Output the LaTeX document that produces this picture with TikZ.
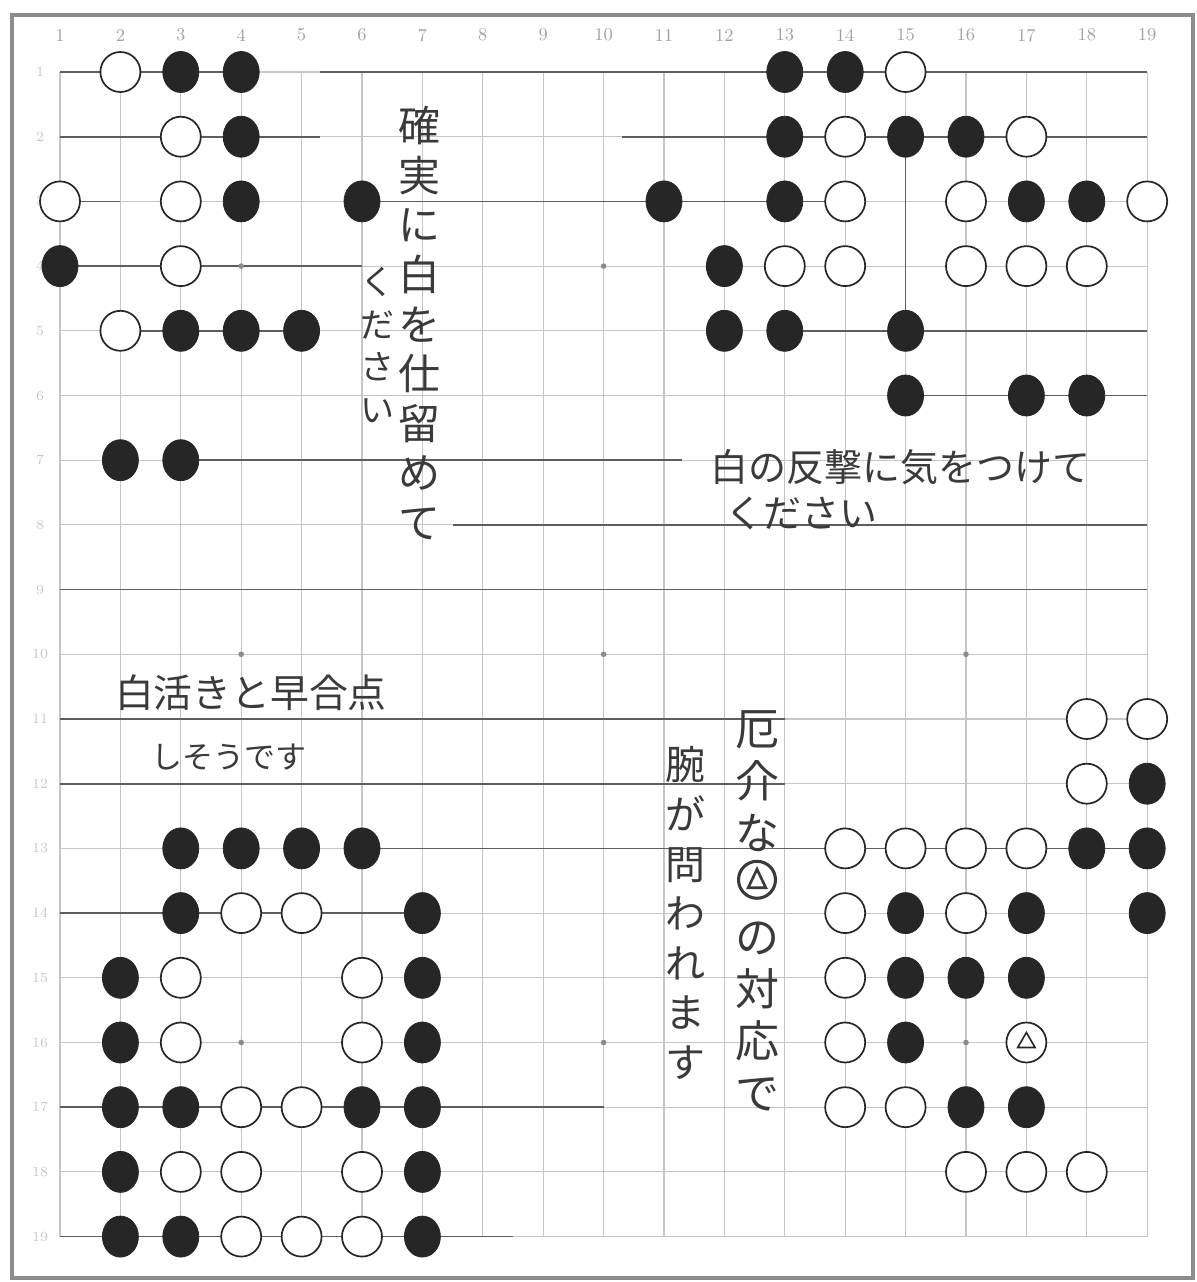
\documentclass[tikz,border=0pt]{standalone}
\usepackage{fontspec}
\usepackage{tikz}
\usetikzlibrary{shapes.geometric}
\newfontfamily\jpfont{Noto Sans CJK JP}
\definecolor{GBPaper}{HTML}{FFFFFF}
\definecolor{GBFrame}{HTML}{8C8C8C}
\definecolor{GBGrid}{HTML}{C6C6C6}
\definecolor{GBLine}{HTML}{5E5E5E}
\definecolor{GBInk}{HTML}{262626}
\definecolor{GBPen}{HTML}{3A3A3A}
\definecolor{GBNum}{HTML}{A2A2A2}
\tikzset{
  gridline/.style={GBGrid,line width=0.55pt},
  darkline/.style={GBLine,line width=0.8pt},
  frame/.style={draw=GBFrame,line width=2pt},
  hoshi/.style={circle,fill=GBGrid!70!black,inner sep=0pt,minimum size=2.8pt},
  blackstone/.style={ellipse,fill=GBInk,draw=GBInk,line width=0.4pt,inner sep=0pt,
                     minimum width=18pt,minimum height=20.5pt},
  whitestone/.style={circle,fill=GBPaper,draw=GBInk,line width=0.85pt,inner sep=0pt,
                     minimum size=20pt},
  markstone/.style={regular polygon,regular polygon sides=3,draw=GBInk,line width=0.8pt,
                    inner sep=0pt,minimum size=10pt},
  colnum/.style={text=GBNum,font=\fontsize{9}{10}\selectfont},
  rownum/.style={text=GBNum!60,font=\fontsize{7}{8}\selectfont},
  note/.style={text=GBPen,inner sep=0pt,align=center},
}
\newcommand{\tricirc}{\tikz[x=1em,y=1em,baseline=-0.12em]{%
  \draw[GBPen,line width=0.07em] (0,0.38) circle (0.42);%
  \draw[GBPen,line width=0.06em] (0,0.62)--(-0.2,0.2)--(0.2,0.2)--cycle;}}

\begin{document}
\begin{tikzpicture}[x=30.2pt,y=-32.35pt]
  \useasboundingbox[fill=GBPaper] (0.0066,-0.113) rectangle (19.824,19.702);
  \draw[frame] (0.205,0.119) rectangle (19.757,19.64);

  % board
  \foreach \i in {1,...,19} {
    \draw[gridline] (\i,1) -- (\i,19);
    \draw[gridline] (1,\i) -- (19,\i);
  }
  \foreach \r/\a/\b in {1/1/4, 1/5.3/19, 2/1/5.3, 2/10.3/19, 3/1/2, 3/6/10.7, 3/11/14.2,
                        4/1/6, 5/2/5.1, 5/13/19, 6/15/19, 7/3/11.3, 8/7.5/19, 9/1/19,
                        11/1/13, 12/1/13, 13/6/19, 14/1/7, 17/1/10, 19/1/8.5}
    \draw[darkline] (\a,\r) -- (\b,\r);
  \draw[darkline] (15,2) -- (15,5);
  \foreach \c/\r in {4/4,10/4,16/4,4/10,10/10,16/10,4/16,10/16,16/16}
    \node[hoshi] (star\c-\r) at (\c,\r) {};

  \foreach \c in {1,...,19}
    \node[colnum] (col\c) at (\c,0.43) {\c};
  \foreach \r in {1,...,19}
    \node[rownum] (row\r) at (0.67,\r) {\r};

  % stones
  \foreach \c/\r in {3/1,4/1,13/1,14/1, 4/2,13/2,15/2,16/2, 4/3,6/3,11/3,13/3,17/3,18/3,
                     1/4,12/4, 3/5,4/5,5/5,12/5,13/5,15/5, 15/6,17/6,18/6, 2/7,3/7,
                     19/12, 3/13,4/13,5/13,6/13,18/13,19/13, 3/14,7/14,15/14,17/14,19/14,
                     2/15,7/15,15/15,16/15,17/15, 2/16,7/16,15/16,
                     2/17,3/17,6/17,7/17,16/17,17/17, 2/18,7/18, 2/19,3/19,7/19}
    \node[blackstone] (b\c-\r) at (\c,\r) {};
  \foreach \c/\r in {2/1,15/1, 3/2,14/2,17/2, 1/3,3/3,14/3,16/3,19/3,
                     3/4,13/4,14/4,16/4,17/4,18/4, 2/5, 18/11,19/11, 18/12,
                     14/13,15/13,16/13,17/13, 4/14,5/14,14/14,16/14,
                     3/15,6/15,14/15, 3/16,6/16,14/16,17/16,
                     4/17,5/17,14/17,15/17, 3/18,4/18,6/18,16/18,17/18,18/18, 4/19,5/19,6/19}
    \node[whitestone] (w\c-\r) at (\c,\r) {};
  \node[markstone] (mark) at (w17-16.center) {};

  % notes
  \node[note,font=\jpfont\fontsize{21}{24.8}\selectfont] (kakujitsu) at (6.96,4.88)
    {確\\実\\に\\白\\を\\仕\\留\\め\\て};
  \node[note,font=\jpfont\fontsize{17}{21.3}\selectfont] (kudasaiA) at (6.25,5.22)
    {く\\だ\\さ\\い};
  \node[note,font=\jpfont\fontsize{19}{22}\selectfont] (hangeki) at (14.91,7.10)
    {白の反撃に気をつけて};
  \node[note,font=\jpfont\fontsize{19}{22}\selectfont] (kudasaiB) at (13.27,7.82)
    {ください};
  \node[note,font=\jpfont\fontsize{19.4}{22}\selectfont] (hayagaten) at (4.16,10.6)
    {白活きと早合点};
  \node[note,font=\jpfont\fontsize{15.5}{18}\selectfont] (shisou) at (3.80,11.59)
    {しそうです};
  \node[note,font=\jpfont\fontsize{22}{26}\selectfont] (yakkai) at (12.54,13.97)
    {厄\\介\\な\\\tricirc\\の\\対\\応\\で};
  \node[note,font=\jpfont\fontsize{20}{24.8}\selectfont] (ude) at (11.36,14.0)
    {腕\\が\\問\\わ\\れ\\ま\\す};
\end{tikzpicture}
\end{document}
